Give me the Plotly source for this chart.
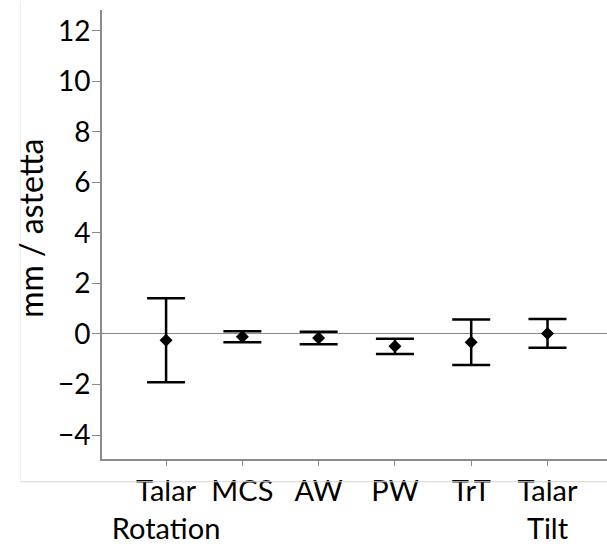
import plotly.graph_objects as go

categories = ["Talar<br>Rotation", "MCS", "AW", "PW", "TrT", "Talar<br>Tilt"]
means = [-0.25, -0.11, -0.16, -0.49, -0.33, 0.02]
errors = [1.66, 0.22, 0.25, 0.30, 0.90, 0.57]
y_ticks = [-4, -2, 0, 2, 4, 6, 8, 10, 12]
y_tick_text = ["\u22124", "\u22122", "0", "2", "4", "6", "8", "10", "12"]
y_title = "mm / astetta"

FONT = "Lato"
AXIS_GRAY = "#8a8a8a"

fig = go.Figure()
fig.add_trace(go.Scatter(
    x=list(range(len(categories))),
    y=means,
    mode="markers",
    marker=dict(symbol="diamond", size=10, color="black"),
    error_y=dict(type="data", array=errors, visible=True,
                 color="black", thickness=2.5, width=19),
    showlegend=False,
))

fig.update_layout(
    width=607, height=544,
    margin=dict(l=102, r=0, t=10, b=85),
    paper_bgcolor="white", plot_bgcolor="white",
    font=dict(family=FONT, color="black"),
    xaxis=dict(
        range=[-0.84, 5.78],
        tickmode="array",
        tickvals=list(range(len(categories))),
        ticktext=categories,
        tickangle=0,
        automargin=False,
        tickfont=dict(size=29, family=FONT, color="black"),
        showline=True, linecolor=AXIS_GRAY, linewidth=2,
        ticks="outside", ticklen=5, tickcolor=AXIS_GRAY, tickwidth=1,
        showgrid=False, zeroline=False,
        ticklabelstandoff=0,
    ),
    yaxis=dict(
        range=[-4.95, 12.82],
        tickmode="array",
        tickvals=y_ticks,
        ticktext=y_tick_text,
        automargin=False,
        tickfont=dict(size=28, family=FONT, color="black"),
        showline=True, linecolor=AXIS_GRAY, linewidth=2,
        ticks="outside", ticklen=8, tickcolor=AXIS_GRAY, tickwidth=1,
        showgrid=False,
        zeroline=True, zerolinecolor=AXIS_GRAY, zerolinewidth=1,
        ticklabelstandoff=-4,
    ),
    annotations=[
        dict(text=y_title, xref="paper", yref="paper",
             x=-0.1406, y=0.515, xanchor="center", yanchor="middle",
             textangle=-90, showarrow=False,
             font=dict(size=32, family=FONT, color="black")),
    ],
    shapes=[
        dict(type="line", xref="paper", yref="paper",
             x0=-0.1615, x1=1, y0=-0.0506, y1=-0.0506,
             line=dict(color="#d4d4d4", width=1)),
        dict(type="line", xref="paper", yref="paper",
             x0=-0.1615, x1=-0.1615, y0=1.02, y1=-0.0506,
             line=dict(color="#f0f0f0", width=1)),
    ],
)

fig.write_html("out.html")
